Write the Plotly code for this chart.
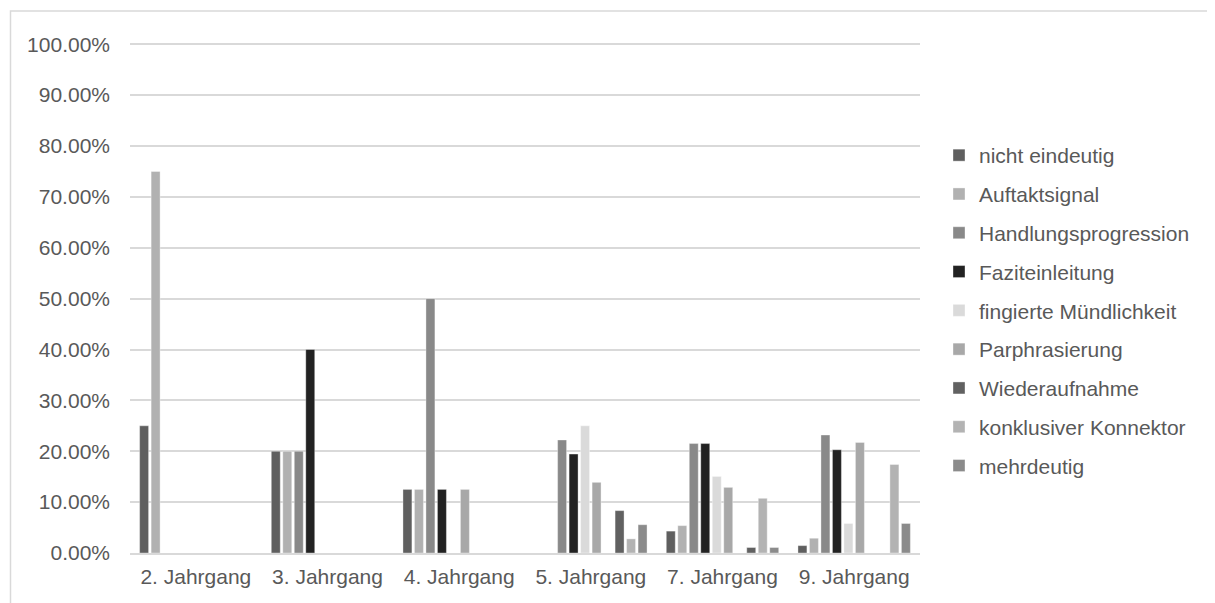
import plotly.graph_objects as go

categories = ["2. Jahrgang", "3. Jahrgang", "4. Jahrgang", "5. Jahrgang", "7. Jahrgang", "9. Jahrgang"]

# the reference reserves a 7th bar slot (empty in every group) that has no legend entry
series_names = [
    "nicht eindeutig", "Auftaktsignal", "Handlungsprogression", "Faziteinleitung",
    "fingierte Mündlichkeit", "Parphrasierung", "(ohne Eintrag)", "Wiederaufnahme",
    "konklusiver Konnektor", "mehrdeutig",
]
in_legend = [True, True, True, True, True, True, False, True, True, True]

nicht_eindeutig = [25.0, 20.0, 12.5, 0.0, 4.30, 1.45]
auftaktsignal = [75.0, 20.0, 12.5, 0.0, 5.38, 2.90]
handlungsprogression = [0.0, 20.0, 50.0, 22.22, 21.51, 23.19]
faziteinleitung = [0.0, 40.0, 12.5, 19.44, 21.51, 20.29]
fingierte_muendlichkeit = [0.0, 0.0, 0.0, 25.0, 15.05, 5.80]
parphrasierung = [0.0, 0.0, 12.5, 13.89, 12.90, 21.74]
ohne_eintrag = [0.0, 0.0, 0.0, 0.0, 0.0, 0.0]
wiederaufnahme = [0.0, 0.0, 0.0, 8.33, 1.08, 0.0]
konklusiver_konnektor = [0.0, 0.0, 0.0, 2.78, 10.75, 17.39]
mehrdeutig = [0.0, 0.0, 0.0, 5.56, 1.08, 5.80]

y_tick_values = [0, 10, 20, 30, 40, 50, 60, 70, 80, 90, 100]
y_tick_labels = ["0.00%", "10.00%", "20.00%", "30.00%", "40.00%", "50.00%",
                 "60.00%", "70.00%", "80.00%", "90.00%", "100.00%"]

series_values = [
    nicht_eindeutig, auftaktsignal, handlungsprogression, faziteinleitung,
    fingierte_muendlichkeit, parphrasierung, ohne_eintrag, wiederaufnahme,
    konklusiver_konnektor, mehrdeutig,
]

colors = ["#5f5f5f", "#b1b1b1", "#898989", "#222222", "#dadada",
          "#a8a8a8", "#777777", "#616161", "#b3b3b3", "#8b8b8b"]

fig = go.Figure()
for i, (name, vals, col, leg) in enumerate(zip(series_names, series_values, colors, in_legend)):
    fig.add_trace(go.Bar(
        x=categories, y=vals, name=name, showlegend=leg,
        marker=dict(color=col, line=dict(color="rgba(255,255,255,0.6)", width=0.6)),
        legendgroup=f"g{i}",
    ))

# page body has an 8px margin; figure sized to fit inside the window
OFF = 8
W, H = 1215 - OFF, 603 - OFF
L = 130 - OFF
T = 43 - OFF
R = W - (920 - OFF)
B = H - (553 - OFF)
pw, ph = W - L - R, H - T - B

FONT = "Liberation Sans, Arial, sans-serif"
TXT = "#595959"
FS = 21

fig.update_layout(
    width=W, height=H,
    margin=dict(l=L, r=R, t=T, b=B),
    paper_bgcolor="white", plot_bgcolor="white",
    barmode="group", bargap=0.127, bargroupgap=0.22,
    font=dict(family=FONT, size=FS, color=TXT),
    showlegend=True,
    legend=dict(
        x=(939 - OFF - L) / pw, xanchor="left", y=(553 - 135) / ph, yanchor="top",
        font=dict(size=FS, color=TXT),
        traceorder="grouped", tracegroupgap=8.5,
        bgcolor="rgba(0,0,0,0)", itemwidth=30,
    ),
    xaxis=dict(showline=True, linecolor="#d9d9d9", linewidth=2, ticks="",
               tickfont=dict(size=FS, color=TXT), ticklabelstandoff=4),
    yaxis=dict(range=[0, 100.25], tickmode="array", tickvals=y_tick_values,
               ticktext=y_tick_labels,
               showgrid=True, gridcolor="#d9d9d9", gridwidth=1.5, zeroline=False,
               tickfont=dict(size=FS, color=TXT), ticklabelstandoff=19),
    shapes=[dict(type="rect", xref="paper", yref="paper",
                 x0=(10.5 - 130) / pw, x1=(1215 + 30 - 130) / pw,
                 y0=(553 - 640) / ph, y1=(553 - 11) / ph,
                 line=dict(color="#d9d9d9", width=1.5), fillcolor="rgba(0,0,0,0)",
                 layer="below")],
)

fig.write_html("out.html")
